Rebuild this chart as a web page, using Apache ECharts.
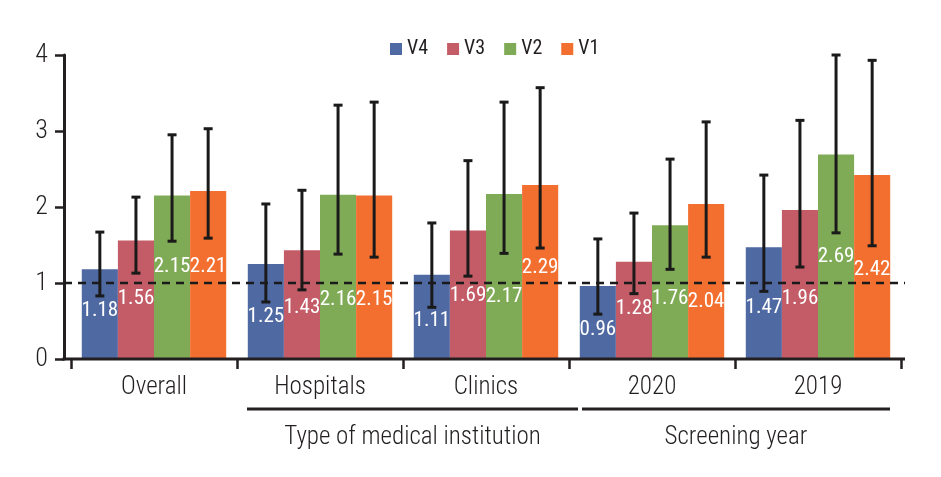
<!DOCTYPE html>
<html>
<head>
<meta charset="utf-8">
<script src="https://cdn.jsdelivr.net/npm/echarts@6/dist/echarts.min.js"></script>
<style>html,body{margin:0;padding:0;background:#fff;}#c{width:941px;height:477px;}</style>
</head>
<body>
<div id="c"></div>
<script>
const categories = ['Overall', 'Hospitals', 'Clinics', '2020', '2019'];
const seriesNames = ['V4', 'V3', 'V2', 'V1'];
const yTicks = [0, 1, 2, 3, 4];
const v4 = [1.18, 1.25, 1.11, 0.96, 1.47];
const v3 = [1.56, 1.43, 1.69, 1.28, 1.96];
const v2 = [2.15, 2.16, 2.17, 1.76, 2.69];
const v1 = [2.21, 2.15, 2.29, 2.04, 2.42];
const v4Low = [0.83, 0.75, 0.68, 0.59, 0.89];
const v4High = [1.67, 2.04, 1.79, 1.58, 2.42];
const v3Low = [1.13, 0.91, 1.09, 0.86, 1.21];
const v3High = [2.13, 2.22, 2.61, 1.92, 3.14];
const v2Low = [1.55, 1.38, 1.39, 1.18, 1.66];
const v2High = [2.95, 3.34, 3.38, 2.63, 4.00];
const v1Low = [1.59, 1.34, 1.46, 1.34, 1.49];
const v1High = [3.03, 3.38, 3.57, 3.12, 3.93];
const groupNames = ['Type of medical institution', 'Screening year'];
const refValue = 1;

// layout (not data): vertical anchor of each value label, in axis units
const labelAt = [
  [0.63, 0.55, 0.50, 0.39, 0.68],
  [0.79, 0.67, 0.83, 0.66, 0.79],
  [1.21, 0.78, 0.82, 0.79, 1.34],
  [1.21, 0.78, 1.20, 0.75, 1.18]
];

const colors = ['#4f69a2', '#c35c67', '#80ab56', '#f26f30'];
const FAM = '"Roboto Condensed", "Open Sans", sans-serif';
const TXT = '#231f20';
const GAP = 0.13;

const values = [v4, v3, v2, v1];
const lows = [v4Low, v3Low, v2Low, v1Low];
const highs = [v4High, v3High, v2High, v1High];

const chart = echarts.init(document.getElementById('c'), null, {renderer: 'canvas'});

function makeCustom(si) {
  return {
    type: 'custom',
    name: 'err' + si,
    z: 5,
    encode: {x: 0, y: [1, 2]},
    data: categories.map((c, i) => [i, lows[si][i], highs[si][i], values[si][i], labelAt[si][i]]),
    renderItem: function (params, api) {
      const idx = api.value(0);
      const catW = api.size([1, 0])[0];
      const groupW = catW * (1 - GAP);
      const barW = groupW / 4;
      const cx = api.coord([idx, 0])[0] - groupW / 2 + barW * (si + 0.5);
      const lo = api.coord([idx, api.value(1)])[1];
      const hi = api.coord([idx, api.value(2)])[1];
      const ly = api.coord([idx, api.value(4)])[1];
      const cap = 4.5;
      const st = {stroke: '#1a1a1a', lineWidth: 3};
      return {
        type: 'group',
        children: [
          {type: 'line', shape: {x1: cx, y1: lo, x2: cx, y2: hi}, style: st},
          {type: 'line', shape: {x1: cx - cap, y1: hi, x2: cx + cap, y2: hi}, style: st},
          {type: 'line', shape: {x1: cx - cap, y1: lo, x2: cx + cap, y2: lo}, style: st},
          {type: 'text', z2: 10, style: {
            x: cx, y: ly, text: api.value(3).toFixed(2), fill: '#ffffff',
            font: '21px ' + FAM, align: 'center', verticalAlign: 'middle'
          }}
        ]
      };
    }
  };
}

const barSeries = seriesNames.map((n, si) => ({
  type: 'bar',
  name: n,
  data: values[si],
  barGap: '0%',
  barCategoryGap: (GAP * 100) + '%',
  itemStyle: {color: colors[si]},
  z: 2
}));

const option = {
  animation: false,
  color: colors,
  grid: {left: 71, right: 40, top: 55, bottom: 118, containLabel: false},
  legend: {
    data: seriesNames,
    top: 34,
    left: 385,
    icon: 'rect',
    itemWidth: 12,
    itemHeight: 12,
    itemGap: 19,
    textStyle: {fontFamily: FAM, fontSize: 20, color: TXT}
  },
  xAxis: {
    type: 'category',
    data: categories,
    axisLine: {show: false},
    axisTick: {show: true, length: 10, lineStyle: {color: '#231f20', width: 2.5}, interval: 0},
    axisLabel: {fontFamily: FAM, fontSize: 25, fontWeight: 300, color: TXT, margin: 16},
    splitLine: {show: false}
  },
  yAxis: {
    type: 'value',
    min: 0, max: 4, interval: 1,
    offset: 7,
    axisLine: {show: true, lineStyle: {color: '#231f20', width: 3}},
    axisTick: {show: true, length: 9, lineStyle: {color: '#231f20', width: 2.5}},
    axisLabel: {fontFamily: FAM, fontSize: 26, fontWeight: 300, color: TXT, margin: 16,
      formatter: v => yTicks.indexOf(v) >= 0 ? String(v) : ''},
    splitLine: {show: false}
  },
  series: barSeries.concat(seriesNames.map((n, si) => makeCustom(si)))
};

chart.setOption(option);

// Annotations computed from axis scales
function px(i, v) { return chart.convertToPixel({gridIndex: 0}, [i, v]); }
const p0 = px(0, 0), p4 = px(4, 0);
const catW = px(1, 0)[0] - p0[0];
const leftEdge = p0[0] - catW / 2;
const rightEdge = p4[0] + catW / 2;
const yAxisX = leftEdge - 7;
const baseY = p0[1];
const refY = px(0, refValue)[1];
const bracketY = baseY + 50;
const groupTextY = baseY + 79;
const g1a = px(1, 0)[0] - catW / 2 + 10, g1b = px(2, 0)[0] + catW / 2 + 9;
const g2a = px(3, 0)[0] - catW / 2 + 13, g2b = px(4, 0)[0] + catW / 2 - 11;
const lineStyle = {stroke: '#231f20', lineWidth: 3};

chart.setOption({
  graphic: [
    {type: 'line', z: 10, shape: {x1: yAxisX - 1.5, y1: baseY, x2: rightEdge + 4, y2: baseY}, style: lineStyle},
    {type: 'line', z: 10, shape: {x1: yAxisX, y1: refY, x2: rightEdge + 4, y2: refY},
      style: {stroke: '#1a1a1a', lineWidth: 2.5, lineDash: [8, 6]}},
    {type: 'line', shape: {x1: g1a, y1: bracketY, x2: g1b, y2: bracketY}, style: lineStyle},
    {type: 'line', shape: {x1: g2a, y1: bracketY, x2: g2b, y2: bracketY}, style: lineStyle},
    {type: 'text', style: {x: (g1a + g1b) / 2, y: groupTextY, text: groupNames[0], fill: TXT,
      font: '300 25px ' + FAM, align: 'center', verticalAlign: 'middle'}},
    {type: 'text', style: {x: (g2a + g2b) / 2, y: groupTextY, text: groupNames[1], fill: TXT,
      font: '300 25px ' + FAM, align: 'center', verticalAlign: 'middle'}}
  ]
});
</script>
</body>
</html>
